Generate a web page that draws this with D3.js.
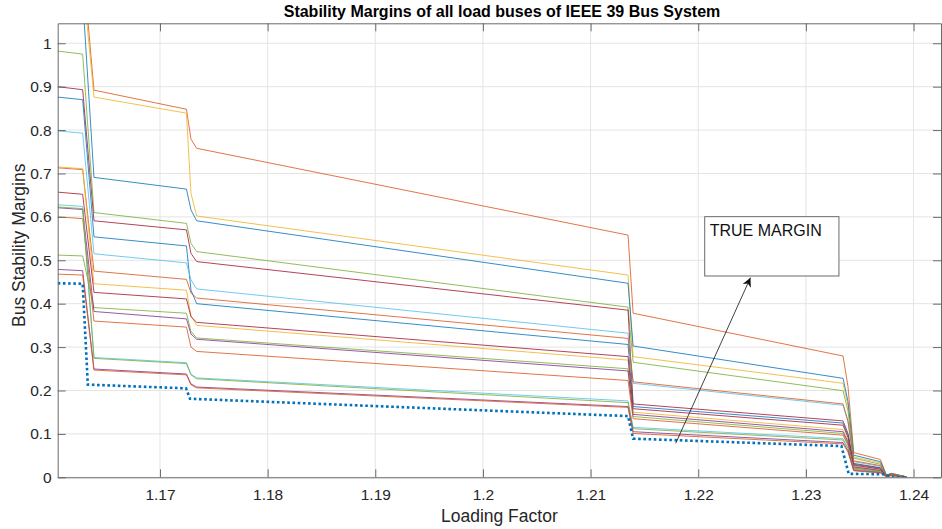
<!DOCTYPE html>
<html>
<head>
<meta charset="utf-8">
<script src="https://cdn.jsdelivr.net/npm/d3@7/dist/d3.min.js"></script>
<style>
  body { margin: 0; background: #fff; }
  text { font-family: "Liberation Sans", Arial, Helvetica, sans-serif; }
</style>
</head>
<body>
<svg id="chart" width="942" height="529"></svg>
<script>
// loading factor steps shared by all bus curves
const loadingFactor = [1.1605, 1.16282, 1.16387, 1.17246, 1.17288, 1.17341, 1.21348, 1.21395,
    1.23345, 1.23391, 1.23444, 1.23692, 1.23748, 1.23794, 1.23933];

const busA = [1.20, 1.19, 0.892, 0.848, 0.779, 0.758, 0.558, 0.378, 0.2795, 0.209, 0.057, 0.041, 0.005, 0.009, 0.001];
const busB = [1.16, 1.15, 0.876, 0.839, 0.654, 0.602, 0.466, 0.278, 0.2166, 0.166, 0.047, 0.033, 0.004, 0.008, 0.001];
const busC = [1.11, 1.105, 0.691, 0.664, 0.616, 0.591, 0.447, 0.3025, 0.228, 0.175, 0.051, 0.036, 0.005, 0.009, 0.001];
const busD = [0.982, 0.975, 0.610, 0.585, 0.539, 0.520, 0.392, 0.265, 0.1995, 0.153, 0.044, 0.030, 0.004, 0.008, 0.001];
const busE = [0.900, 0.893, 0.591, 0.570, 0.516, 0.497, 0.385, 0.169, 0.130, 0.101, 0.032, 0.022, 0.003, 0.007, 0.001];
const busF = [0.876, 0.870, 0.554, 0.533, 0.431, 0.400, 0.306, 0.163, 0.125, 0.097, 0.030, 0.021, 0.003, 0.007, 0.001];
const busG = [0.798, 0.793, 0.515, 0.494, 0.455, 0.434, 0.332, 0.2166, 0.166, 0.127, 0.036, 0.025, 0.004, 0.008, 0.001];
const busH = [0.713, 0.709, 0.475, 0.456, 0.425, 0.413, 0.320, 0.220, 0.169, 0.130, 0.038, 0.027, 0.004, 0.008, 0.001];
const busI = [0.715, 0.711, 0.446, 0.431, 0.372, 0.350, 0.270, 0.150, 0.110, 0.085, 0.026, 0.018, 0.003, 0.006, 0.001];
const busJ = [0.657, 0.652, 0.426, 0.411, 0.370, 0.357, 0.278, 0.158, 0.120, 0.092, 0.028, 0.019, 0.003, 0.006, 0.001];
const busK = [0.512, 0.510, 0.391, 0.378, 0.336, 0.321, 0.250, 0.140, 0.101, 0.078, 0.023, 0.015, 0.002, 0.006, 0.001];
const busL = [0.621, 0.617, 0.382, 0.365, 0.330, 0.318, 0.245, 0.145, 0.105, 0.081, 0.024, 0.016, 0.002, 0.006, 0.001];
const busM = [0.600, 0.596, 0.360, 0.346, 0.300, 0.290, 0.223, 0.135, 0.097, 0.074, 0.021, 0.014, 0.002, 0.005, 0.001];
const busN = [0.628, 0.624, 0.276, 0.264, 0.238, 0.229, 0.176, 0.115, 0.089, 0.068, 0.019, 0.013, 0.002, 0.005, 0.001];
const busO = [0.623, 0.619, 0.274, 0.262, 0.236, 0.227, 0.172, 0.112, 0.086, 0.066, 0.018, 0.012, 0.002, 0.005, 0.001];
const busP = [0.479, 0.476, 0.2495, 0.238, 0.215, 0.208, 0.163, 0.105, 0.080, 0.061, 0.016, 0.011, 0.002, 0.004, 0.001];
const busQ = [0.468, 0.466, 0.247, 0.236, 0.213, 0.206, 0.161, 0.101, 0.077, 0.058, 0.015, 0.010, 0.001, 0.004, 0.000];

const buses = [busA, busB, busC, busD, busE, busF, busG, busH, busI, busJ, busK, busL, busM, busN, busO, busP, busQ];
const busColors = ['#D95319', '#EDB120', '#0072BD', '#77AC30', '#A2142F', '#0072BD', '#4DBEEE', '#D95319',
    '#EDB120', '#A2142F', '#77AC30', '#7E2F8E', '#D95319', '#4DBEEE', '#77AC30', '#7E2F8E', '#D95319'];

// minimum over all buses (dotted)
const trueMarginX = [1.1605, 1.16282, 1.16330, 1.17242, 1.17279, 1.21348, 1.21395, 1.2333, 1.23398, 1.23731, 1.23805, 1.2393];
const trueMarginY = [0.447, 0.446, 0.2135, 0.205, 0.181, 0.141, 0.089, 0.072, 0.008, 0.007, 0.0, 0.0];

const xTicks = [1.17, 1.18, 1.19, 1.2, 1.21, 1.22, 1.23, 1.24];
const xTickLabels = ['1.17', '1.18', '1.19', '1.2', '1.21', '1.22', '1.23', '1.24'];
const yTicks = [0, 0.1, 0.2, 0.3, 0.4, 0.5, 0.6, 0.7, 0.8, 0.9, 1];
const yTickLabels = ['0', '0.1', '0.2', '0.3', '0.4', '0.5', '0.6', '0.7', '0.8', '0.9', '1'];

const plotLeft = 57.7, plotRight = 941, plotTop = 23.3, plotBottom = 477.3;

const svg = d3.select('#chart');

const x = d3.scaleLinear().domain([1.1605, 1.24255]).range([plotLeft, plotRight]);
const y = d3.scaleLinear().domain([0, 1.046]).range([plotBottom, plotTop]);

svg.append('rect')
    .attr('width', 942).attr('height', 529).attr('fill', '#fff');

// grid
const grid = svg.append('g').attr('class', 'grid')
    .attr('stroke', '#e4e4e4').attr('stroke-width', 1);
grid.selectAll('.gx').data(xTicks).join('line')
    .attr('class', 'gx')
    .attr('x1', d => x(d)).attr('x2', d => x(d))
    .attr('y1', plotTop).attr('y2', plotBottom);
grid.selectAll('.gy').data(yTicks).join('line')
    .attr('class', 'gy')
    .attr('x1', plotLeft).attr('x2', plotRight)
    .attr('y1', d => y(d)).attr('y2', d => y(d));

svg.append('clipPath').attr('id', 'plot-clip')
    .append('rect')
    .attr('x', plotLeft).attr('y', plotTop)
    .attr('width', plotRight - plotLeft).attr('height', plotBottom - plotTop);

const lines = svg.append('g').attr('clip-path', 'url(#plot-clip)');

const busLine = d3.line()
    .x((d, i) => x(loadingFactor[i]))
    .y(d => y(d));

lines.selectAll('.bus').data(buses).join('path')
    .attr('class', 'bus')
    .attr('d', busLine)
    .attr('fill', 'none')
    .attr('stroke', (d, i) => busColors[i])
    .attr('stroke-width', 1)
    .attr('stroke-opacity', 0.8);

const marginLine = d3.line()
    .x((d, i) => x(trueMarginX[i]))
    .y(d => y(d));

lines.append('path')
    .attr('d', marginLine(trueMarginY))
    .attr('fill', 'none')
    .attr('stroke', '#0072BD')
    .attr('stroke-width', 2.6)
    .attr('stroke-dasharray', '2.6,2.6');

// axes
const axisColor = '#6a6a6a';
const styleAxis = g => {
    g.select('.domain').attr('stroke', axisColor);
    g.selectAll('.tick line').attr('stroke', axisColor);
    g.selectAll('.tick text')
        .attr('fill', '#262626')
        .style('font-size', '15.5px')
        .style('font-family', '"Liberation Sans", Arial, Helvetica, sans-serif');
};

svg.append('g')
    .attr('transform', `translate(0,${plotBottom})`)
    .call(d3.axisBottom(x).tickValues(xTicks).tickFormat((d, i) => xTickLabels[i])
        .tickSizeInner(-8).tickSizeOuter(0).tickPadding(12))
    .call(styleAxis);

svg.append('g')
    .attr('transform', `translate(0,${plotTop})`)
    .call(d3.axisTop(x).tickValues(xTicks).tickFormat('')
        .tickSizeInner(-8).tickSizeOuter(0))
    .call(styleAxis);

svg.append('g')
    .attr('transform', `translate(${plotLeft},0)`)
    .call(d3.axisLeft(y).tickValues(yTicks).tickFormat((d, i) => yTickLabels[i])
        .tickSizeInner(-8).tickSizeOuter(0).tickPadding(6))
    .call(styleAxis);

svg.append('g')
    .attr('transform', `translate(${plotRight},0)`)
    .call(d3.axisRight(y).tickValues(yTicks).tickFormat('')
        .tickSizeInner(-8).tickSizeOuter(0))
    .call(styleAxis);

// labels
svg.append('text')
    .attr('x', 502).attr('y', 17)
    .attr('text-anchor', 'middle')
    .attr('font-weight', 'bold')
    .attr('font-size', 16)
    .attr('fill', '#000')
    .text('Stability Margins of all load buses of IEEE 39 Bus System');

svg.append('text')
    .attr('x', (plotLeft + plotRight) / 2).attr('y', 522)
    .attr('text-anchor', 'middle')
    .attr('font-size', 17.5)
    .attr('fill', '#262626')
    .text('Loading Factor');

svg.append('text')
    .attr('transform', `translate(25,${(plotTop + plotBottom) / 2 - 5}) rotate(-90)`)
    .attr('text-anchor', 'middle')
    .attr('font-size', 17.5)
    .attr('fill', '#262626')
    .text('Bus Stability Margins');

// TRUE MARGIN annotation
const boxX0 = x(1.2206), boxX1 = x(1.23307);
const boxY0 = y(0.6005), boxY1 = y(0.4638);

svg.append('rect')
    .attr('x', boxX0).attr('y', boxY0)
    .attr('width', boxX1 - boxX0).attr('height', boxY1 - boxY0)
    .attr('fill', '#fff')
    .attr('stroke', '#6a6a6a')
    .attr('stroke-width', 1);

svg.append('text')
    .attr('x', boxX0 + 5).attr('y', boxY0 + 19)
    .attr('font-size', 16)
    .attr('fill', '#111')
    .text('TRUE MARGIN');

svg.append('defs').append('marker')
    .attr('id', 'arrowhead')
    .attr('viewBox', '0 0 10 10')
    .attr('refX', 10).attr('refY', 5)
    .attr('markerWidth', 9).attr('markerHeight', 9)
    .attr('markerUnits', 'userSpaceOnUse')
    .attr('orient', 'auto')
    .append('path')
    .attr('d', 'M0,0 L10,5 L0,10 L3,5 Z')
    .attr('fill', '#111');

svg.append('line')
    .attr('x1', x(1.21791)).attr('y1', y(0.0783))
    .attr('x2', x(1.22485)).attr('y2', y(0.460))
    .attr('stroke', '#111')
    .attr('stroke-width', 0.8)
    .attr('marker-end', 'url(#arrowhead)');
</script>
</body>
</html>
